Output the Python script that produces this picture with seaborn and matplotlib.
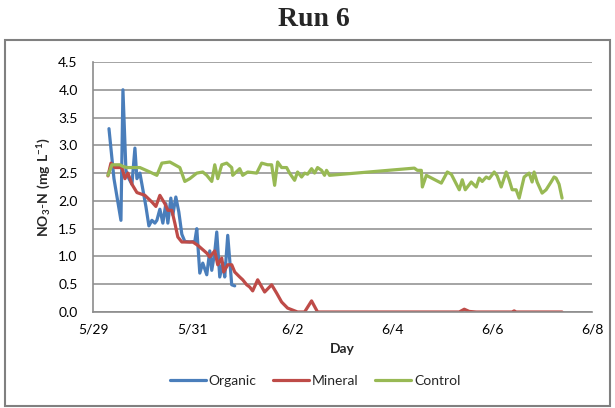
import numpy as np
import pandas as pd
import matplotlib
matplotlib.use("Agg")
import matplotlib.pyplot as plt
from matplotlib.patches import Rectangle
import seaborn as sns

# ---- data (days after 5/29 00:00, NO3-N mg/L) ----
organic_day = [0.32, 0.42, 0.56, 0.60, 0.66, 0.72, 0.78, 0.84, 0.88, 0.94, 1.00, 1.06,
               1.12, 1.18, 1.24, 1.28, 1.34, 1.40, 1.46, 1.50, 1.56, 1.60, 1.66, 1.72,
               1.78, 1.84, 1.94, 2.04, 2.08, 2.14, 2.20, 2.28, 2.34, 2.38, 2.44, 2.48,
               2.54, 2.60, 2.64, 2.70, 2.78, 2.84]
organic_val = [3.3, 2.4, 1.65, 4.0, 2.55, 2.4, 2.3, 2.95, 2.4, 2.5, 2.2, 1.9,
               1.55, 1.65, 1.6, 1.65, 1.85, 1.6, 1.95, 1.6, 2.05, 1.75, 2.07, 1.8,
               1.4, 1.27, 1.26, 1.27, 1.5, 0.7, 0.88, 0.67, 1.1, 0.75, 1.08, 1.44,
               0.63, 0.88, 0.63, 1.38, 0.49, 0.47]

mineral_day = [0.30, 0.36, 0.44, 0.58, 0.64, 0.70, 0.78, 0.88, 1.04, 1.18, 1.26, 1.34,
               1.44, 1.50, 1.58, 1.64, 1.70, 1.78, 2.00, 2.10, 2.28, 2.34, 2.44, 2.50,
               2.58, 2.62, 2.70, 2.78, 2.84, 2.94, 3.00, 3.08, 3.14, 3.20, 3.30, 3.44,
               3.58, 3.68, 3.78, 3.90, 4.10, 4.24, 4.38, 4.50, 7.34, 7.44, 7.54, 7.68,
               8.40, 8.44, 8.48, 9.40]
mineral_val = [2.45, 2.68, 2.6, 2.6, 2.4, 2.5, 2.3, 2.15, 2.1, 1.98, 1.9, 2.1,
               1.95, 1.83, 1.83, 1.6, 1.35, 1.26, 1.26, 1.2, 1.06, 0.99, 1.1, 0.85,
               0.97, 0.72, 0.85, 0.85, 0.72, 0.63, 0.58, 0.49, 0.45, 0.38, 0.58, 0.36,
               0.49, 0.34, 0.18, 0.07, 0.0, 0.0, 0.2, 0.0, 0.0, 0.05, 0.01, 0.0,
               0.0, 0.02, 0.0, 0.0]

control_day = [0.30, 0.38, 0.54, 0.60, 0.68, 0.94, 1.14, 1.28, 1.38, 1.54, 1.64, 1.74,
               1.84, 1.94, 2.08, 2.20, 2.28, 2.38, 2.44, 2.50, 2.58, 2.68, 2.78, 2.80,
               2.94, 3.00, 3.10, 3.28, 3.38, 3.50, 3.58, 3.64, 3.70, 3.78, 3.88, 3.94,
               4.04, 4.10, 4.18, 4.24, 4.30, 4.38, 4.44, 4.50, 4.58, 4.64, 4.68, 4.74,
               6.44, 6.50, 6.58, 6.60, 6.68, 6.98, 7.10, 7.18, 7.34, 7.40, 7.46, 7.58,
               7.68, 7.74, 7.80, 7.88, 7.94, 8.04, 8.10, 8.18, 8.28, 8.34, 8.40, 8.48,
               8.54, 8.64, 8.74, 8.80, 8.84, 8.90, 9.00, 9.08, 9.18, 9.24, 9.28, 9.34,
               9.40]
control_val = [2.46, 2.65, 2.65, 2.62, 2.6, 2.6, 2.52, 2.46, 2.68, 2.7, 2.65, 2.6,
               2.35, 2.4, 2.5, 2.52, 2.46, 2.35, 2.65, 2.4, 2.65, 2.68, 2.6, 2.46,
               2.58, 2.46, 2.52, 2.5, 2.68, 2.65, 2.65, 2.28, 2.7, 2.6, 2.6, 2.5,
               2.37, 2.52, 2.43, 2.5, 2.48, 2.58, 2.5, 2.6, 2.55, 2.46, 2.55, 2.46,
               2.59, 2.55, 2.55, 2.25, 2.46, 2.32, 2.52, 2.48, 2.2, 2.38, 2.2, 2.34,
               2.25, 2.41, 2.35, 2.43, 2.4, 2.52, 2.45, 2.25, 2.52, 2.38, 2.2, 2.2,
               2.05, 2.43, 2.5, 2.34, 2.52, 2.34, 2.14, 2.2, 2.34, 2.43, 2.41, 2.3,
               2.05]

series_names = ["Organic", "Mineral", "Control"]
series_colors = ["#4A7EBB", "#BE4B48", "#98B954"]
x_tick_labels = ["5/29", "5/31", "6/2", "6/4", "6/6", "6/8"]
y_ticks = [0.0, 0.5, 1.0, 1.5, 2.0, 2.5, 3.0, 3.5, 4.0, 4.5]

start = pd.Timestamp("2013-05-29")
frames = []
for name, d, v in zip(series_names, [organic_day, mineral_day, control_day],
                      [organic_val, mineral_val, control_val]):
    frames.append(pd.DataFrame({
        "Day": start + pd.to_timedelta(np.array(d), unit="D"),
        "NO3": v,
        "Treatment": name,
    }))
df = pd.concat(frames, ignore_index=True)

sns.set_theme(style="white")
plt.rcParams["font.family"] = ["Lato", "DejaVu Sans"]
plt.rcParams["mathtext.fontset"] = "custom"
plt.rcParams["mathtext.rm"] = "Lato"
plt.rcParams["mathtext.bf"] = "Lato:bold"

fig = plt.figure(figsize=(6.15, 4.08), dpi=100)
ax = fig.add_axes([93 / 615, 1 - 312 / 408, (592 - 93) / 615, (312 - 62) / 408])

sns.lineplot(data=df, x="Day", y="NO3", hue="Treatment", hue_order=series_names,
             palette=series_colors, sort=False, estimator=None, linewidth=2.3,
             ax=ax, legend=True)

tick_dates = [start + pd.Timedelta(days=2 * i) for i in range(len(x_tick_labels))]
ax.set_xlim(tick_dates[0], tick_dates[-1])
ax.set_xticks(tick_dates)
ax.set_xticklabels(x_tick_labels)
ax.set_ylim(0, 4.5)
ax.set_yticks(y_ticks)
ax.set_yticklabels([f"{t:.1f}" for t in y_ticks])
ax.tick_params(axis="both", length=0, labelsize=10, colors="black")
ax.tick_params(axis="y", pad=11)
ax.tick_params(axis="x", pad=8)

ax.grid(axis="y", color="#8c8c8c", linewidth=1.1)
ax.set_axisbelow(True)
for s in ["top", "right"]:
    ax.spines[s].set_visible(False)
for s in ["left", "bottom"]:
    ax.spines[s].set_color("#8c8c8c")
    ax.spines[s].set_linewidth(1.2)

ax.set_xlabel("Day", fontsize=10, fontweight="bold", labelpad=6)
ax.set_ylabel(r"$\mathbf{NO_3{\text{-}}N\ (mg\ L^{-1})}$", fontsize=10, labelpad=4)

handles, labels = ax.get_legend_handles_labels()
ax.legend(handles, labels, loc="center", bbox_to_anchor=(315 / 615, 1 - 381 / 408),
          bbox_transform=fig.transFigure, ncol=3, frameon=False, fontsize=10,
          handlelength=2.6, handletextpad=0.2, columnspacing=1.2, borderpad=0)

fig.text(314 / 615, 1 - 20 / 408, "Run 6", ha="center", va="center",
         fontsize=20, fontweight="bold", family="Liberation Serif")

fig.patches.append(Rectangle((5 / 615, 1 - 406 / 408), (610 - 5) / 615, (406 - 40) / 408,
                             transform=fig.transFigure, fill=False,
                             edgecolor="#808080", linewidth=1.5))

fig.savefig("out.png", dpi=100)
